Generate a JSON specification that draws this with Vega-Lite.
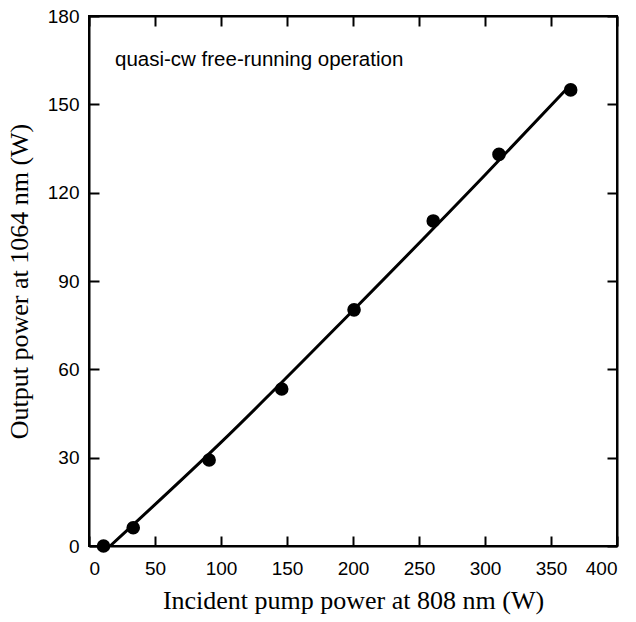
{
  "$schema": "https://vega.github.io/schema/vega-lite/v6.json",
  "width": 528,
  "height": 530,
  "autosize": {"type": "none"},
  "padding": {"left": 89, "top": 16, "right": 19, "bottom": 76},
  "background": "white",
  "config": {
    "view": {"stroke": "black", "strokeWidth": 2},
    "axis": {
      "grid": false,
      "domainColor": "black",
      "domainWidth": 2,
      "tickColor": "black",
      "tickWidth": 2,
      "tickSize": -10,
      "labelFont": "Liberation Sans",
      "labelFontSize": 19,
      "labelColor": "black",
      "titleFont": "Liberation Serif",
      "titleFontSize": 26,
      "titleFontWeight": "normal",
      "titleColor": "black"
    }
  },
  "datasets": {
    "points": [
      {"pump": 11, "out": 0},
      {"pump": 33.5, "out": 6.2},
      {"pump": 91, "out": 29.2},
      {"pump": 146, "out": 53.3},
      {"pump": 200.8, "out": 80.2},
      {"pump": 260.8, "out": 110.4},
      {"pump": 310.6, "out": 133},
      {"pump": 364.9, "out": 154.9}
    ],
    "fit": [
      {"pump": 16, "out": 0},
      {"pump": 100, "out": 35.2},
      {"pump": 200, "out": 80},
      {"pump": 300, "out": 126},
      {"pump": 363, "out": 155.8}
    ],
    "note": [
      {"pump": 19.7, "out": 163, "label": "quasi-cw free-running operation"}
    ]
  },
  "layer": [
    {
      "data": {"name": "points"},
      "mark": {"type": "point", "filled": true, "color": "black", "opacity": 1, "size": 185},
      "encoding": {
        "x": {
          "field": "pump", "type": "quantitative",
          "scale": {"domain": [0, 400], "nice": false, "zero": false},
          "axis": {"orient": "bottom", "values": [0, 50, 100, 150, 200, 250, 300, 350, 400], "labelPadding": 23, "title": "Incident pump power at 808 nm (W)", "titlePadding": 9}
        },
        "y": {
          "field": "out", "type": "quantitative",
          "scale": {"domain": [0, 180], "nice": false, "zero": false},
          "axis": {"orient": "left", "values": [0, 30, 60, 90, 120, 150, 180], "labelPadding": 20, "title": "Output power at 1064 nm (W)", "titlePadding": 15}
        }
      }
    },
    {
      "data": {"name": "fit"},
      "mark": {"type": "line", "color": "black", "strokeWidth": 3, "interpolate": "monotone"},
      "encoding": {
        "x": {
          "field": "pump", "type": "quantitative",
          "axis": {"orient": "top", "values": [0, 50, 100, 150, 200, 250, 300, 350, 400], "labels": false, "title": null}
        },
        "y": {
          "field": "out", "type": "quantitative",
          "axis": {"orient": "right", "values": [0, 30, 60, 90, 120, 150, 180], "labels": false, "title": null}
        }
      }
    },
    {
      "data": {"name": "note"},
      "mark": {"type": "text", "font": "Liberation Sans", "fontSize": 20.5, "align": "left", "baseline": "alphabetic", "color": "black"},
      "encoding": {
        "x": {"field": "pump", "type": "quantitative", "axis": null},
        "y": {"field": "out", "type": "quantitative", "axis": null},
        "text": {"field": "label"}
      }
    }
  ],
  "resolve": {"axis": {"x": "independent", "y": "independent"}}
}
